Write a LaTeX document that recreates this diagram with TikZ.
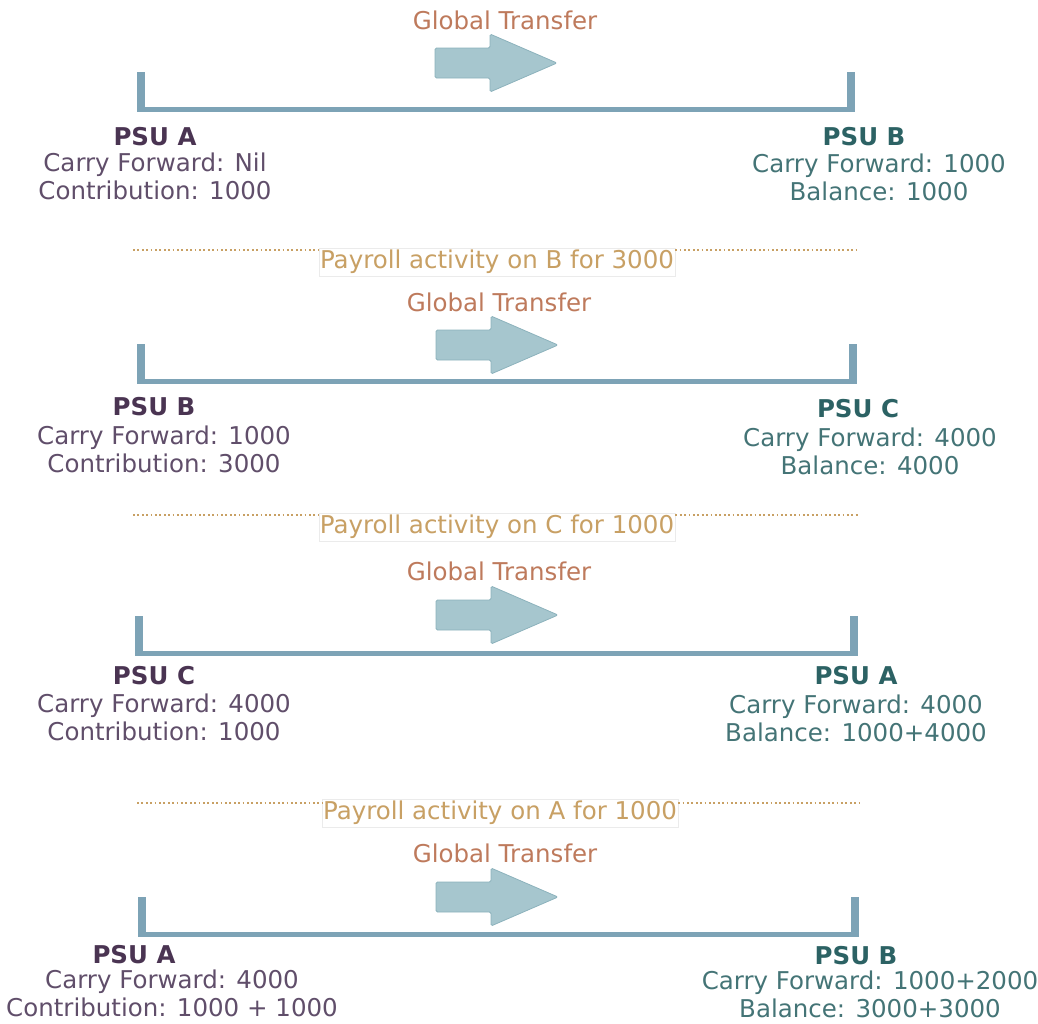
\documentclass[tikz,border=0pt]{standalone}
\usepackage{fontspec}
\setmainfont{DejaVu Sans}
\usepackage{xcolor}
\definecolor{gtbrown}{RGB}{190,122,92}
\definecolor{srcdark}{RGB}{74,52,82}
\definecolor{srctext}{RGB}{96,78,106}
\definecolor{dstdark}{RGB}{44,98,100}
\definecolor{dsttext}{RGB}{68,116,118}
\definecolor{paygold}{RGB}{200,160,100}
\definecolor{arrowfill}{RGB}{166,198,206}
\definecolor{arrowedge}{RGB}{140,178,188}
\definecolor{barblue}{RGB}{125,163,182}

\begin{document}
\begin{tikzpicture}[x=1pt,y=-1pt,
  every node/.style={font=\fontsize{24.5}{28}\selectfont,inner sep=0pt},
  gtlabel/.style={text=gtbrown},
  srchead/.style={text=srcdark,font=\fontsize{24.5}{28}\selectfont\bfseries},
  srcinfo/.style={text=srctext,align=center},
  dsthead/.style={text=dstdark,font=\fontsize{24.5}{28}\selectfont\bfseries},
  dstinfo/.style={text=dsttext,align=center},
  paylabel/.style={text=paygold,fill=white,draw=black!8,inner xsep=1pt,inner ysep=2pt},
  payline/.style={paygold,line width=2pt,dash pattern=on 1.8pt off 2.6pt},
  transfer/.style={fill=arrowfill,draw=arrowedge,line width=0.8pt,rounded corners=1.5pt},
  barpost/.style={barblue,line width=8pt},
  barline/.style={barblue,line width=5pt}]
\useasboundingbox (0,0) rectangle (1038,1023);

%first transfer: A to B
\node[gtlabel] (gt1) at (505,20) {Global Transfer};
\coordinate (ar1) at (435,48);
\draw[transfer] (ar1) -- ++(55,0) -- ++(0,-14) -- ++(67,29) -- ++(-67,29) -- ++(0,-14) -- ++(-55,0) -- cycle;
\draw[barpost] (141,72) -- (141,112);
\draw[barpost] (851,72) -- (851,112);
\draw[barline] (137,109.5) -- (855,109.5);
\node[srchead] (src1) at (155,137) {PSU A};
\node[srcinfo] (src1info) at (155,176) {Carry Forward: Nil\\Contribution: 1000};
\node[dsthead] (dst1) at (864,137) {PSU B};
\node[dstinfo] (dst1info) at (879,177.5) {Carry Forward: 1000\\Balance: 1000};

%payroll on B
\node[paylabel] (pay1) at (497,262) {Payroll activity on B for 3000};
\coordinate (pay1l) at (133,250);
\coordinate (pay1r) at (858,250);
\draw[payline] (pay1l) -- (pay1l -| pay1.west);
\draw[payline] (pay1r -| pay1.east) -- (pay1r);

%second transfer: B to C
\node[gtlabel] (gt2) at (499,302) {Global Transfer};
\coordinate (ar2) at (436,330);
\draw[transfer] (ar2) -- ++(55,0) -- ++(0,-14) -- ++(67,29) -- ++(-67,29) -- ++(0,-14) -- ++(-55,0) -- cycle;
\draw[barpost] (141,344) -- (141,384);
\draw[barpost] (853,344) -- (853,384);
\draw[barline] (137,381.5) -- (857,381.5);
\node[srchead] (src2) at (154,407) {PSU B};
\node[srcinfo] (src2info) at (164,449) {Carry Forward: 1000\\Contribution: 3000};
\node[dsthead] (dst2) at (858,409) {PSU C};
\node[dstinfo] (dst2info) at (870,451) {Carry Forward: 4000\\Balance: 4000};

%payroll on C
\node[paylabel] (pay2) at (497,527) {Payroll activity on C for 1000};
\coordinate (pay2l) at (133,515);
\coordinate (pay2r) at (858,515);
\draw[payline] (pay2l) -- (pay2l -| pay2.west);
\draw[payline] (pay2r -| pay2.east) -- (pay2r);

%third transfer: C to A
\node[gtlabel] (gt3) at (499,571) {Global Transfer};
\coordinate (ar3) at (436,600);
\draw[transfer] (ar3) -- ++(55,0) -- ++(0,-14) -- ++(67,29) -- ++(-67,29) -- ++(0,-14) -- ++(-55,0) -- cycle;
\draw[barpost] (139,616) -- (139,656);
\draw[barpost] (854,616) -- (854,656);
\draw[barline] (135,653.5) -- (858,653.5);
\node[srchead] (src3) at (154,676) {PSU C};
\node[srcinfo] (src3info) at (164,717) {Carry Forward: 4000\\Contribution: 1000};
\node[dsthead] (dst3) at (856,676) {PSU A};
\node[dstinfo] (dst3info) at (856,718) {Carry Forward: 4000\\Balance: 1000+4000};

%payroll on A
\node[paylabel] (pay3) at (500,813) {Payroll activity on A for 1000};
\coordinate (pay3l) at (137,803);
\coordinate (pay3r) at (862,803);
\draw[payline] (pay3l) -- (pay3l -| pay3.west);
\draw[payline] (pay3r -| pay3.east) -- (pay3r);

%fourth transfer: A to B
\node[gtlabel] (gt4) at (505,853) {Global Transfer};
\coordinate (ar4) at (436,882);
\draw[transfer] (ar4) -- ++(55,0) -- ++(0,-14) -- ++(67,29) -- ++(-67,29) -- ++(0,-14) -- ++(-55,0) -- cycle;
\draw[barpost] (142,897) -- (142,937);
\draw[barpost] (855,897) -- (855,937);
\draw[barline] (138,934.5) -- (859,934.5);
\node[srchead] (src4) at (134,955) {PSU A};
\node[srcinfo] (src4info) at (172,993) {Carry Forward: 4000\\Contribution: 1000 + 1000};
\node[dsthead] (dst4) at (856,956) {PSU B};
\node[dstinfo] (dst4info) at (870,994) {Carry Forward: 1000+2000\\Balance: 3000+3000};
\end{tikzpicture}
\end{document}
